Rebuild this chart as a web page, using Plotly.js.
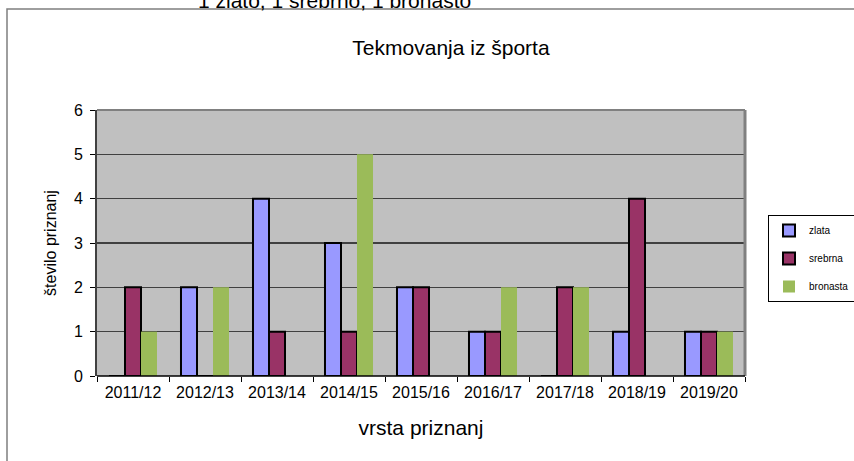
<!DOCTYPE html>
<html>
<head>
<meta charset="utf-8">
<script src="https://cdn.plot.ly/plotly-3.0.1.min.js"></script>
<style>html,body{margin:0;padding:0;background:#fff;}#chart{width:854px;height:461px;}</style>
</head>
<body>
<div id="chart"></div>
<script>
const categories = ["2011/12","2012/13","2013/14","2014/15","2015/16","2016/17","2017/18","2018/19","2019/20"];
const zlata    = [0,2,4,3,2,1,0,1,1];
const srebrna  = [2,0,1,1,2,1,2,4,1];
const bronasta = [1,2,0,5,0,2,2,0,1];
const seriesNames = ["zlata","srebrna","bronasta"];
const yTicks = [0,1,2,3,4,5,6];

const L = 97, R = 745, T = 110, B = 376, W = 854, H = 461;
const pw = R - L, ph = B - T;
const px = x => (x - L) / pw;
const py = y => (B - y) / ph;

const font = "Liberation Sans, Arial, sans-serif";

const traces = [
  {type:"bar", name:seriesNames[0], x:categories, y:zlata, legendgroup:"a",
   marker:{color:"#9999FF", line:{color:"#000000", width:2}}},
  {type:"bar", name:seriesNames[1], x:categories, y:srebrna, legendgroup:"b",
   marker:{color:"#993366", line:{color:"#000000", width:2}}},
  {type:"bar", name:seriesNames[2], x:categories, y:bronasta, legendgroup:"c",
   marker:{color:"#9BBB59", line:{width:0}}}
];

const layout = {
  width: W, height: H,
  margin: {l: L, r: W - R, t: T, b: H - B, pad: 0, autoexpand: false},
  paper_bgcolor: "#ffffff",
  plot_bgcolor: "#C0C0C0",
  font: {family: font, color: "#000000", size: 16},
  barmode: "group",
  bargap: 0.333,
  bargroupgap: 0,
  showlegend: true,
  title: {text: "Tekmovanja iz športa", font: {size: 21, family: font, color: "#000"},
          x: px(451), xref: "paper", xanchor: "center", y: 1 - 48/H, yanchor: "middle"},
  xaxis: {
    type: "category", tickson: "boundaries", ticks: "outside", ticklen: 5,
    tickcolor: "#000", showline: false, showgrid: false, zeroline: false,
    ticklabelstandoff: 5,
    tickfont: {size: 16, family: font},
    title: {text: "vrsta priznanj", font: {size: 21, family: font}, standoff: 20}
  },
  yaxis: {
    range: [0, 6], tickvals: yTicks, ticktext: yTicks.map(String),
    ticks: "outside", ticklen: 5, tickcolor: "#000",
    ticklabelstandoff: 4,
    showline: true, linecolor: "#404040", linewidth: 2,
    showgrid: true, gridcolor: "#404040", gridwidth: 1.5,
    zeroline: false, tickfont: {size: 16, family: font},
    title: {text: "število priznanj", font: {size: 16, family: font}, standoff: 13}
  },
  legend: {
    x: px(768), y: py(215), xanchor: "left", yanchor: "top",
    bgcolor: "#ffffff", bordercolor: "#000000", borderwidth: 1,
    font: {size: 10, family: font}, traceorder: "grouped", tracegroupgap: 9,
    itemwidth: 30
  },
  shapes: [
    {type:"line", xref:"paper", yref:"paper", x0:0, x1:1, y0:1, y1:1, line:{color:"#808080", width:2}},
    {type:"line", xref:"paper", yref:"paper", x0:1, x1:1, y0:0, y1:1, line:{color:"#808080", width:3}},
    {type:"line", xref:"paper", yref:"paper", x0:0, x1:1, y0:0, y1:0, line:{color:"#000000", width:1.5}},
    {type:"rect", xref:"paper", yref:"paper", x0:px(7), x1:px(900), y0:py(9), y1:py(520),
     line:{color:"#7f7f7f", width:1.5}, layer:"below"}
  ],
  annotations: [
    {text: "1 zlato, 1 srebrno, 1 bronasto", xref: "paper", yref: "paper",
     x: px(196), y: py(14), xanchor: "left", yanchor: "bottom", showarrow: false,
     font: {size: 21, family: font, color: "#000"}}
  ]
};

Plotly.newPlot("chart", traces, layout, {displayModeBar: false, staticPlot: true});
</script>
</body>
</html>
